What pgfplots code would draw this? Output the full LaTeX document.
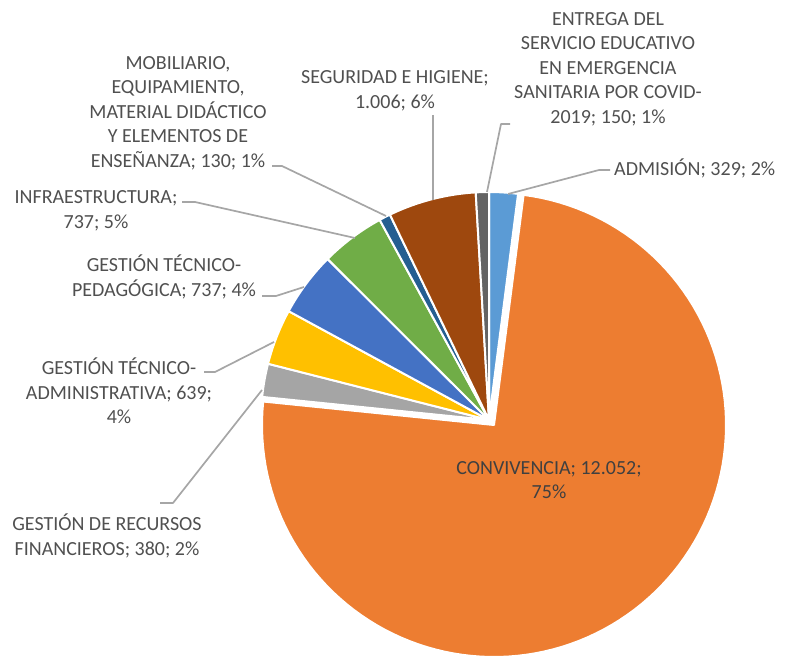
\documentclass[border=0pt]{standalone}
\usepackage{pgfplots}
\pgfplotsset{compat=1.18}
\usepackage{fontspec}
\setmainfont{Carlito}
\definecolor{cADM}{HTML}{5B9BD5}
\definecolor{cCONV}{HTML}{ED7D31}
\definecolor{cFIN}{HTML}{A5A5A5}
\definecolor{cADMIN}{HTML}{FFC000}
\definecolor{cPED}{HTML}{4472C4}
\definecolor{cINFRA}{HTML}{70AD47}
\definecolor{cMOB}{HTML}{255E91}
\definecolor{cSEG}{HTML}{9E480E}
\definecolor{cENT}{HTML}{636363}
\definecolor{txt}{HTML}{505050}
\definecolor{lead}{HTML}{A6A6A6}
% values
\def\vADM{329}
\def\vCONV{12052}
\def\vFIN{380}
\def\vADMIN{639}
\def\vPED{737}
\def\vINFRA{737}
\def\vMOB{130}
\def\vSEG{1006}
\def\vENT{150}
\begin{document}
\begin{tikzpicture}
\pgfmathsetmacro\tot{\vADM+\vCONV+\vFIN+\vADMIN+\vPED+\vINFRA+\vMOB+\vSEG+\vENT}
\pgfmathsetmacro\cA{\vADM}
\pgfmathsetmacro\cB{\cA+\vCONV}
\pgfmathsetmacro\cC{\cB+\vFIN}
\pgfmathsetmacro\cD{\cC+\vADMIN}
\pgfmathsetmacro\cE{\cD+\vPED}
\pgfmathsetmacro\cF{\cE+\vINFRA}
\pgfmathsetmacro\cG{\cF+\vMOB}
\pgfmathsetmacro\cH{\cG+\vSEG}
\pgfmathsetmacro\aA{90-360*(\cA/\tot)}
\pgfmathsetmacro\aB{90-360*(\cB/\tot)}
\pgfmathsetmacro\aC{90-360*(\cC/\tot)}
\pgfmathsetmacro\aD{90-360*(\cD/\tot)}
\pgfmathsetmacro\aE{90-360*(\cE/\tot)}
\pgfmathsetmacro\aF{90-360*(\cF/\tot)}
\pgfmathsetmacro\aG{90-360*(\cG/\tot)}
\pgfmathsetmacro\aH{90-360*(\cH/\tot)}
\def\ox{494}\def\oy{234}\def\orr{232}
\def\sx{489}\def\sy{239}\def\sr{228}
\begin{axis}[
  scale only axis, width=792pt, height=659pt,
  xmin=0, xmax=792, ymin=0, ymax=659,
  hide axis, clip=false,
  every axis plot/.append style={line join=round},
]
\path (axis cs:0,0) rectangle (axis cs:792,659);
% slices
\addplot[fill=cCONV, draw=white, line width=2pt, domain=\aB:\aA, samples=120, variable=\t]
  ({\ox+\orr*cos(\t)},{\oy+\orr*sin(\t)}) -- (axis cs:\ox,\oy) -- cycle;
\addplot[fill=cADM, draw=white, line width=2pt, domain=\aA:90, samples=20, variable=\t]
  ({\sx+\sr*cos(\t)},{\sy+\sr*sin(\t)}) -- (axis cs:\sx,\sy) -- cycle;
\addplot[fill=cFIN, draw=white, line width=2pt, domain=\aC:\aB, samples=20, variable=\t]
  ({\sx+\sr*cos(\t)},{\sy+\sr*sin(\t)}) -- (axis cs:\sx,\sy) -- cycle;
\addplot[fill=cADMIN, draw=white, line width=2pt, domain=\aD:\aC, samples=20, variable=\t]
  ({\sx+\sr*cos(\t)},{\sy+\sr*sin(\t)}) -- (axis cs:\sx,\sy) -- cycle;
\addplot[fill=cPED, draw=white, line width=2pt, domain=\aE:\aD, samples=20, variable=\t]
  ({\sx+\sr*cos(\t)},{\sy+\sr*sin(\t)}) -- (axis cs:\sx,\sy) -- cycle;
\addplot[fill=cINFRA, draw=white, line width=2pt, domain=\aF:\aE, samples=20, variable=\t]
  ({\sx+\sr*cos(\t)},{\sy+\sr*sin(\t)}) -- (axis cs:\sx,\sy) -- cycle;
\addplot[fill=cMOB, draw=white, line width=2pt, domain=\aG:\aF, samples=10, variable=\t]
  ({\sx+\sr*cos(\t)},{\sy+\sr*sin(\t)}) -- (axis cs:\sx,\sy) -- cycle;
\addplot[fill=cSEG, draw=white, line width=2pt, domain=\aH:\aG, samples=30, variable=\t]
  ({\sx+\sr*cos(\t)},{\sy+\sr*sin(\t)}) -- (axis cs:\sx,\sy) -- cycle;
\addplot[fill=cENT, draw=white, line width=2pt, domain=-270:\aH, samples=10, variable=\t]
  ({\sx+\sr*cos(\t)},{\sy+\sr*sin(\t)}) -- (axis cs:\sx,\sy) -- cycle;
% leader lines
\addplot[lead, line width=1.7pt, no marks] coordinates {(510,535) (501,535) (487,467)};
\addplot[lead, line width=1.7pt, no marks] coordinates {(610,489) (599,489) (508,465)};
\addplot[lead, line width=1.7pt, no marks] coordinates {(433,544) (433,459)};
\addplot[lead, line width=1.7pt, no marks] coordinates {(272,493) (282,493) (386,443)};
\addplot[lead, line width=1.7pt, no marks] coordinates {(182,457) (195,457) (355,421)};
\addplot[lead, line width=1.7pt, no marks] coordinates {(262,363) (276,363) (304,372)};
\addplot[lead, line width=1.7pt, no marks] coordinates {(204,287) (215,287) (274,317)};
\addplot[lead, line width=1.7pt, no marks] coordinates {(160,156) (173,156) (262,269)};
% labels
\tikzset{lab/.style={text=txt, align=center, inner sep=0pt, font=\fontsize{20}{24.5}\selectfont}}
\node[lab] at (axis cs:608,590) {ENTREGA DEL\\SERVICIO EDUCATIVO\\EN EMERGENCIA\\SANITARIA POR COVID-\\2019; 150; 1\%};
\node[lab, anchor=west] at (axis cs:614,491) {ADMISIÓN; 329; 2\%};
\node[lab] at (axis cs:395,568) {SEGURIDAD E HIGIENE;\\1.006; 6\%};
\node[lab] at (axis cs:178,546) {MOBILIARIO,\\EQUIPAMIENTO,\\MATERIAL DIDÁCTICO\\Y ELEMENTOS DE\\ENSEÑANZA; 130; 1\%};
\node[lab] at (axis cs:96,448) {INFRAESTRUCTURA;\\737; 5\%};
\node[lab] at (axis cs:164,382) {GESTIÓN TÉCNICO-\\PEDAGÓGICA; 737; 4\%};
\node[lab] at (axis cs:119,268) {GESTIÓN TÉCNICO-\\ADMINISTRATIVA; 639;\\4\%};
\node[lab] at (axis cs:107,123) {GESTIÓN DE RECURSOS\\FINANCIEROS; 380; 2\%};
\node[lab, text=black!75] at (axis cs:549,179) {CONVIVENCIA; 12.052;\\75\%};
\end{axis}
\end{tikzpicture}
\end{document}
